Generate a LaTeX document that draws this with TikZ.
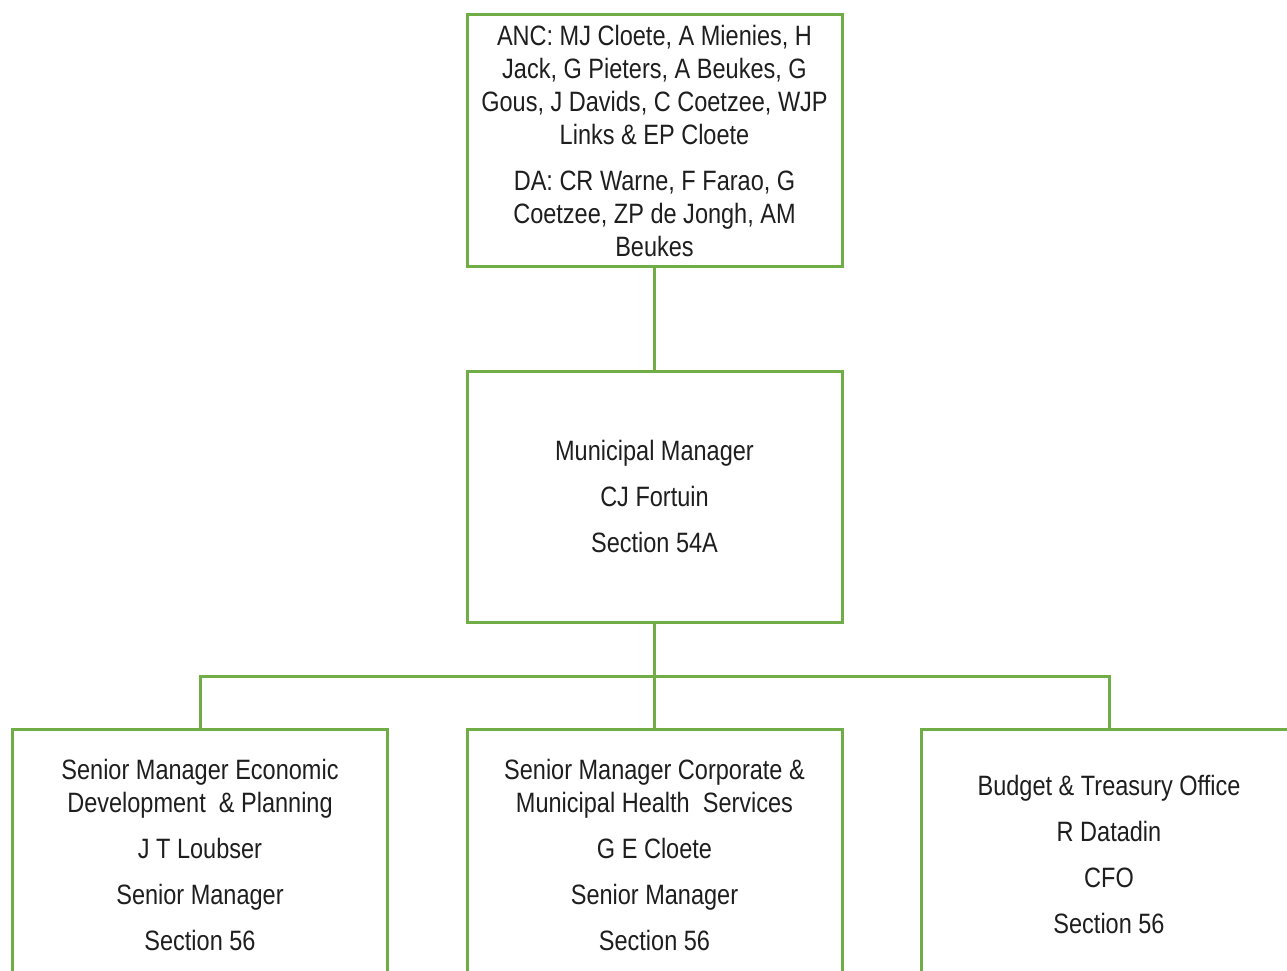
\documentclass[tikz,border=0pt]{standalone}
\usepackage{fontspec}
\setmainfont{Liberation Sans}[FakeStretch=0.84]
\definecolor{orggreen}{RGB}{112,173,71}
\definecolor{txt}{RGB}{30,30,30}
\begin{document}
\begin{tikzpicture}[x=1pt,y=-1pt,
  box/.style={draw=orggreen, line width=3pt, minimum width=375pt, minimum height=251pt,
    inner sep=0pt, align=center, text=txt, font=\fontsize{28}{33}\selectfont, anchor=center},
  conn/.style={draw=orggreen, line width=3pt}]
\useasboundingbox (0,0) rectangle (1287,971);
\clip (0,0) rectangle (1287,971);
\node[box] (council) at (654.5,140.5) {ANC: MJ Cloete, A Mienies, H\\Jack, G Pieters, A Beukes, G\\Gous, J Davids, C Coetzee, WJP\\Links \& EP Cloete\\[13pt]DA: CR Warne, F Farao, G\\Coetzee, ZP de Jongh, AM\\Beukes};
\node[box] (mm) at (654.5,496.5) {Municipal Manager\\[13pt]CJ Fortuin\\[13pt]Section 54A};
\node[box] (sed) at (200,854.5) {Senior Manager Economic\\Development\ \ \& Planning\\[13pt]J T Loubser\\[13pt]Senior Manager\\[13pt]Section 56};
\node[box] (scm) at (654.5,854.5) {Senior Manager Corporate \&\\Municipal Health\ \ Services\\[13pt]G E Cloete\\[13pt]Senior Manager\\[13pt]Section 56};
\node[box] (bto) at (1109,854.5) {Budget \& Treasury Office\\[13pt]R Datadin\\[13pt]CFO\\[13pt]Section 56};
\coordinate (bus) at (654.5,676);
\draw[conn] (council.south) -- (mm.north);
\draw[conn] (mm.south) -- (scm.north);
\draw[conn] (sed.north) |- (bus) -| (bto.north);
\end{tikzpicture}
\end{document}
